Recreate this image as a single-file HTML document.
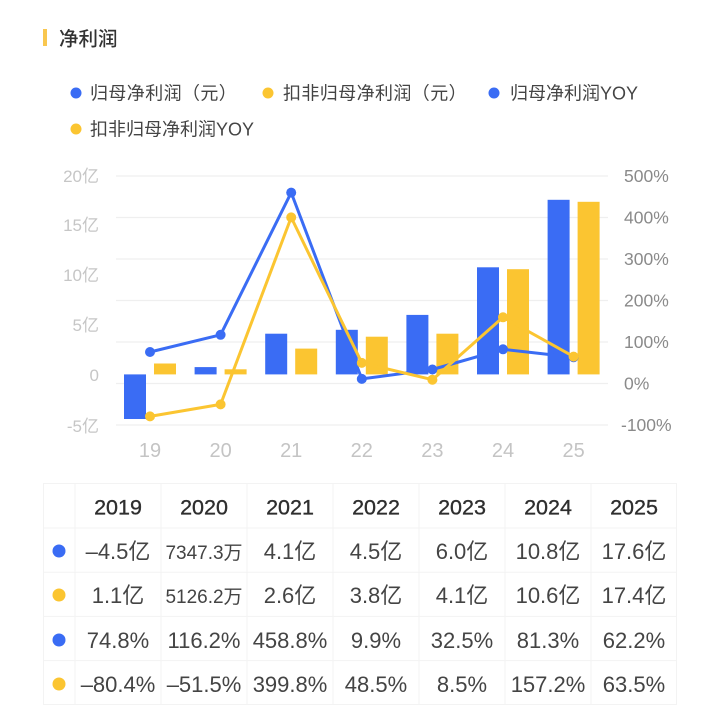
<!DOCTYPE html>
<html><head><meta charset="utf-8"><style>
html,body{margin:0;padding:0;background:#fff;}
svg{display:block;}
text{font-family:"Liberation Sans","Noto Sans CJK SC",sans-serif;}
</style></head><body>
<svg width="720" height="720" viewBox="0 0 720 720" xmlns="http://www.w3.org/2000/svg">
<rect width="720" height="720" fill="#fff"/>
<!-- title -->
<rect x="43" y="29" width="4" height="17" fill="#f9c74f"/>
<text x="59" y="45.5" font-size="19.5" font-weight="500" fill="#333">净利润</text>
<!-- legend -->
<circle cx="76" cy="93" r="5.5" fill="#3a6cf4"/>
<text x="90" y="99.5" font-size="18" fill="#444" letter-spacing="0.4">归母净利润（元）</text>
<circle cx="268" cy="93" r="5.5" fill="#fbc531"/>
<text x="283" y="99.5" font-size="18" fill="#444" letter-spacing="0.4">扣非归母净利润（元）</text>
<circle cx="494" cy="93" r="5.5" fill="#3a6cf4"/>
<text x="510" y="99.5" font-size="18" fill="#444">归母净利润YOY</text>
<circle cx="76" cy="129" r="5.5" fill="#fbc531"/>
<text x="90" y="135.5" font-size="18" fill="#444">扣非归母净利润YOY</text>
<!-- grid -->
<g stroke="#efefef" stroke-width="1.2">
<line x1="116" y1="176" x2="608" y2="176"/>
<line x1="116" y1="217.5" x2="608" y2="217.5"/>
<line x1="116" y1="259" x2="608" y2="259"/>
<line x1="116" y1="300.5" x2="608" y2="300.5"/>
<line x1="116" y1="342" x2="608" y2="342"/>
<line x1="116" y1="383.5" x2="608" y2="383.5"/>
<line x1="116" y1="425" x2="608" y2="425"/>
</g>
<!-- left axis -->
<g font-size="17" fill="#c6c6c6" text-anchor="end">
<text x="99" y="182">20亿</text>
<text x="99" y="231">15亿</text>
<text x="99" y="281">10亿</text>
<text x="99" y="331">5亿</text>
<text x="99" y="381">0</text>
<text x="99" y="432">-5亿</text>
</g>
<!-- right axis -->
<g font-size="17.5" fill="#8a8a8a">
<text x="624" y="182">500%</text>
<text x="624" y="223.5">400%</text>
<text x="624" y="265">300%</text>
<text x="624" y="306.5">200%</text>
<text x="624" y="348">100%</text>
<text x="624" y="389.5">0%</text>
<text x="621" y="431">-100%</text>
</g>
<!-- x labels -->
<g font-size="20" fill="#c4c4c4" text-anchor="middle">
<text x="150" y="457">19</text>
<text x="220.6" y="457">20</text>
<text x="291.2" y="457">21</text>
<text x="361.8" y="457">22</text>
<text x="432.4" y="457">23</text>
<text x="503" y="457">24</text>
<text x="573.6" y="457">25</text>
</g>
<!-- bars blue -->
<g fill="#3a6cf4">
<rect x="124" y="374.4" width="22" height="44.6"/>
<rect x="194.6" y="367.1" width="22" height="7.3"/>
<rect x="265.2" y="333.7" width="22" height="40.7"/>
<rect x="335.8" y="329.8" width="22" height="44.6"/>
<rect x="406.4" y="314.9" width="22" height="59.5"/>
<rect x="477" y="267.3" width="22" height="107.1"/>
<rect x="547.6" y="199.8" width="22" height="174.6"/>
</g>
<g fill="#fbc531">
<rect x="154" y="363.5" width="22" height="10.9"/>
<rect x="224.6" y="369.3" width="22" height="5.1"/>
<rect x="295.2" y="348.6" width="22" height="25.8"/>
<rect x="365.8" y="336.7" width="22" height="37.7"/>
<rect x="436.4" y="333.7" width="22" height="40.7"/>
<rect x="507" y="269.2" width="22" height="105.2"/>
<rect x="577.6" y="201.8" width="22" height="172.6"/>
</g>
<!-- blue line -->
<polyline fill="none" stroke="#3a6cf4" stroke-width="3" stroke-linejoin="round"
 points="150,352 220.6,334.8 291.2,192.6 361.8,378.9 432.4,369.5 503,349.3 573.6,357.2"/>
<g fill="#3a6cf4">
<circle cx="150" cy="352" r="5"/>
<circle cx="220.6" cy="334.8" r="5"/>
<circle cx="291.2" cy="192.6" r="5"/>
<circle cx="361.8" cy="378.9" r="5"/>
<circle cx="432.4" cy="369.5" r="5"/>
<circle cx="503" cy="349.3" r="5"/>
<circle cx="573.6" cy="357.2" r="5"/>
</g>
<!-- yellow line -->
<polyline fill="none" stroke="#fbc531" stroke-width="3" stroke-linejoin="round"
 points="150,416.4 220.6,404.4 291.2,217.4 361.8,362.9 432.4,379.7 503,317.3 573.6,356.6"/>
<g fill="#fbc531">
<circle cx="150" cy="416.4" r="5"/>
<circle cx="220.6" cy="404.4" r="5"/>
<circle cx="291.2" cy="217.4" r="5"/>
<circle cx="361.8" cy="362.9" r="5"/>
<circle cx="432.4" cy="379.7" r="5"/>
<circle cx="503" cy="317.3" r="5"/>
<circle cx="573.6" cy="356.6" r="5"/>
</g>
<!-- table -->
<g stroke="#f3f3f3" stroke-width="1" fill="none">
<rect x="43.5" y="483.5" width="633" height="221"/>
<line x1="43.5" y1="528" x2="676.5" y2="528"/>
<line x1="43.5" y1="572.2" x2="676.5" y2="572.2"/>
<line x1="43.5" y1="616.4" x2="676.5" y2="616.4"/>
<line x1="43.5" y1="660.6" x2="676.5" y2="660.6"/>
<line x1="75" y1="483.5" x2="75" y2="704.5"/>
<line x1="161" y1="483.5" x2="161" y2="704.5"/>
<line x1="247" y1="483.5" x2="247" y2="704.5"/>
<line x1="333" y1="483.5" x2="333" y2="704.5"/>
<line x1="419" y1="483.5" x2="419" y2="704.5"/>
<line x1="505" y1="483.5" x2="505" y2="704.5"/>
<line x1="591" y1="483.5" x2="591" y2="704.5"/>
</g>
<circle cx="59" cy="551" r="6.5" fill="#3a6cf4"/>
<circle cx="59" cy="595" r="6.5" fill="#fbc531"/>
<circle cx="59" cy="640" r="6.5" fill="#3a6cf4"/>
<circle cx="59" cy="684" r="6.5" fill="#fbc531"/>
<g font-size="21.5" fill="#2e2e2e" text-anchor="middle" stroke="#2e2e2e" stroke-width="0.35">
<text x="118" y="514.5">2019</text>
<text x="204" y="514.5">2020</text>
<text x="290" y="514.5">2021</text>
<text x="376" y="514.5">2022</text>
<text x="462" y="514.5">2023</text>
<text x="548" y="514.5">2024</text>
<text x="634" y="514.5">2025</text>
</g>
<g font-size="22" fill="#444" text-anchor="middle">
<text x="118" y="559">–4.5亿</text>
<text x="204" y="559" font-size="19">7347.3万</text>
<text x="290" y="559">4.1亿</text>
<text x="376" y="559">4.5亿</text>
<text x="462" y="559">6.0亿</text>
<text x="548" y="559">10.8亿</text>
<text x="634" y="559">17.6亿</text>

<text x="118" y="603">1.1亿</text>
<text x="204" y="603" font-size="19">5126.2万</text>
<text x="290" y="603">2.6亿</text>
<text x="376" y="603">3.8亿</text>
<text x="462" y="603">4.1亿</text>
<text x="548" y="603">10.6亿</text>
<text x="634" y="603">17.4亿</text>

<text x="118" y="648">74.8%</text>
<text x="204" y="648">116.2%</text>
<text x="290" y="648">458.8%</text>
<text x="376" y="648">9.9%</text>
<text x="462" y="648">32.5%</text>
<text x="548" y="648">81.3%</text>
<text x="634" y="648">62.2%</text>

<text x="118" y="692">–80.4%</text>
<text x="204" y="692">–51.5%</text>
<text x="290" y="692">399.8%</text>
<text x="376" y="692">48.5%</text>
<text x="462" y="692">8.5%</text>
<text x="548" y="692">157.2%</text>
<text x="634" y="692">63.5%</text>
</g>
</svg>
</body></html>
